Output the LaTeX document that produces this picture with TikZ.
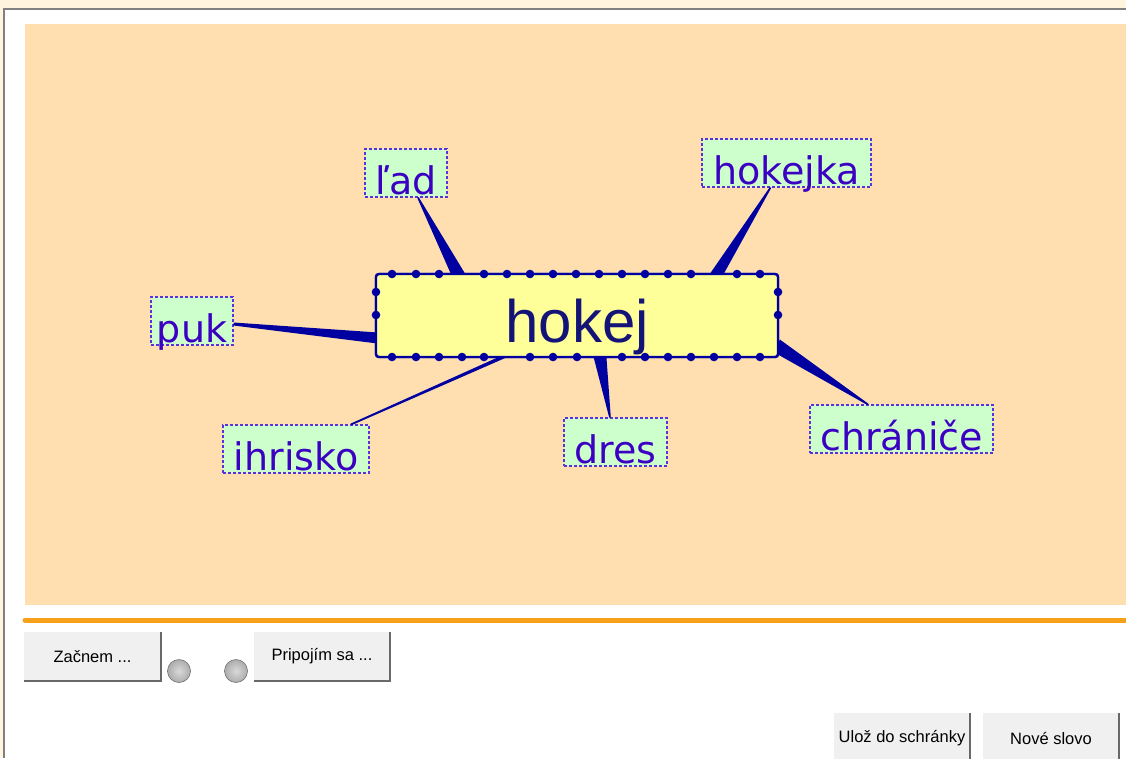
\documentclass[tikz,border=0pt]{standalone}
\usepackage{fontspec}
\setmainfont{Liberation Sans}
\newfontfamily\lblfont{DejaVu Sans}
\usetikzlibrary{calc}
\definecolor{cream}{RGB}{255,245,222}
\definecolor{framegray}{RGB}{128,128,128}
\definecolor{peach}{RGB}{255,223,176}
\definecolor{barorange}{RGB}{247,160,26}
\definecolor{hubfill}{RGB}{255,255,153}
\definecolor{hubblue}{RGB}{0,0,160}
\definecolor{hubtext}{RGB}{20,20,120}
\definecolor{lblfill}{RGB}{204,255,204}
\definecolor{lbltext}{RGB}{60,0,195}
\definecolor{lblline}{RGB}{90,50,220}
\definecolor{btnfill}{RGB}{240,240,240}
\definecolor{btndark}{RGB}{105,105,105}
\tikzset{
  hubbox/.style={draw=hubblue, line width=2.4pt, fill=hubfill, rounded corners=3pt,
    minimum width=402pt, minimum height=83pt, inner sep=0pt,
    text height=68pt, text depth=15pt, text=hubtext,
    font=\fontsize{60}{60}\selectfont},
  lblbox/.style={draw=lblline, line width=1.1pt, dash pattern=on 3pt off 2pt,
    fill=lblfill, inner sep=0pt, minimum height=48pt,
    text height=45pt, text depth=3pt, text=lbltext,
    font=\lblfont\fontsize{38}{38}\selectfont},
  spikecol/.style={fill=hubblue},
  hubdot/.style={fill=hubblue},
  btn/.style={fill=btnfill, inner sep=0pt, minimum height=49pt,
    font=\fontsize{16.5}{16.5}\selectfont, text=black},
  btnedge/.style={draw=btndark, line width=1.6pt},
  btnlight/.style={draw=white, line width=1pt},
  lamp/.style={inner color=gray!30, outer color=gray!65, draw=gray!90!black, line width=0.6pt},
}
\newcommand\spike[4]{%
  \fill[spikecol] ($(#1)!#4!90:(#2)$) -- ($(#2)!#3!-90:(#1)$)
    -- ($(#2)!#3!90:(#1)$) -- ($(#1)!#4!-90:(#2)$) -- cycle;}
\begin{document}
\begin{tikzpicture}[x=1pt,y=-1pt]
\useasboundingbox (0,0) rectangle (1126,758);
\clip (0,0) rectangle (1126,758);
% window frame
\fill[cream] (0,0) rectangle (1126,758);
\fill[white] (4,9) rectangle (1126,758);
\draw[framegray, line width=2pt] (4,758) -- (4,9) -- (1126,9);
% canvas
\fill[peach] (25,24) rectangle (1126,605);
\draw[barorange, line width=5pt, line cap=round] (25,620) -- (1130,620);

% hub
\node[hubbox] (hub) at (577,315.5) {};
% labels
\node[lblbox, minimum width=82pt]  (lad) at (406,173)   {ľad};
\node[lblbox, minimum width=169pt] (hok) at (786.5,163) {hokejka};
\node[lblbox, minimum width=82pt]  (puk) at (192,321)   {puk};
\node[lblbox, minimum width=146pt] (ihr) at (296,449)   {ihrisko};
\node[lblbox, minimum width=103pt] (dres) at (615.5,442) {dres};
\node[lblbox, minimum width=183pt] (chr) at (901.5,429) {chrániče};

% spike endpoints
\coordinate (ladA) at ($(lad.south)+(12,0)$);
\coordinate (ladB) at ($(hub.north west)+(84,3)$);
\coordinate (hokA) at ($(hok.south)+(-16,0)$);
\coordinate (hokB) at ($(hub.north west)+(341,3)$);
\coordinate (pukA) at ($(puk.east)+(0,3)$);
\coordinate (pukB) at ($(hub.west)+(3,22.5)$);
\coordinate (ihrA) at ($(ihr.north)+(55,0)$);
\coordinate (ihrB) at ($(hub.south west)+(130,-2)$);
\coordinate (dresA) at ($(dres.north)+(-5.5,0)$);
\coordinate (dresB) at ($(hub.south west)+(225,-3)$);
\coordinate (chrA) at ($(chr.north)+(-33.5,0)$);
\coordinate (chrB) at ($(hub.east)+(-3,30)$);

\spike{ladA}{ladB}{6.5pt}{0.8pt}
\spike{hokA}{hokB}{6pt}{0.8pt}
\spike{pukA}{pukB}{5.5pt}{1.5pt}
\spike{ihrA}{ihrB}{1.8pt}{0.9pt}
\spike{dresA}{dresB}{6.5pt}{0.8pt}
\spike{chrA}{chrB}{7pt}{0.8pt}

% hub drawn over the spike bases
\node[hubbox] at (hub.center) {hokej};
\foreach \x in {392,416,439,484,507,530,553,576,599,622,645,668,691,737,760}
  \fill[hubdot] (\x,274) circle (4.3pt);
\foreach \x in {392,416,439,462,484,530,553,577,622,645,668,691,714,737,760}
  \fill[hubdot] (\x,357) circle (4.3pt);
\foreach \y in {292,315} {
  \fill[hubdot] (376,\y) circle (4.3pt);
  \fill[hubdot] (778,\y) circle (4.3pt);
}

% buttons
\node[btn, minimum width=137pt] (zac) at (92.5,656.5) {Začnem ...};
\node[btn, minimum width=136pt] (pri) at (322,656.5) {Pripojím sa ...};
\node[btn, minimum width=136pt, minimum height=50pt] (uloz) at (902,738) {Ulož do schránky};
\node[btn, minimum width=136pt, minimum height=50pt] (nove) at (1051,738) {Nové slovo};
\foreach \b in {zac,pri,uloz,nove} {
  \draw[btnlight] (\b.south west) -- (\b.north west) -- (\b.north east);
  \draw[btnedge] (\b.south west) -- (\b.south east) -- (\b.north east);
}
% indicator lamps
\shade[lamp] (179,671) circle (11.5pt);
\shade[lamp] (236,671) circle (11.5pt);
\end{tikzpicture}
\end{document}
